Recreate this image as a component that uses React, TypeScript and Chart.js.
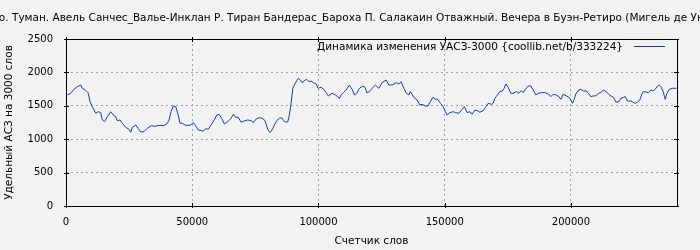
import { useEffect, useRef } from "react";
import { Chart, registerables } from "chart.js";

Chart.register(...registerables);

const TITLE =
  "Унамуно. Туман. Авель Санчес_Валье-Инклан Р. Тиран Бандерас_Бароха П. Салакаин Отважный. Вечера в Буэн-Ретиро (Мигель де Унамуно)";
const SERIES_LABEL = "Динамика изменения УАСЗ-3000 {coollib.net/b/333224}";
const X_TITLE = "Счетчик слов";
const Y_TITLE = "Удельный АСЗ на 3000 слов";

const X_MIN = 0;
const X_MAX = 242000;
const X_TICKS = [0, 50000, 100000, 150000, 200000];
const Y_MIN = 0;
const Y_MAX = 2500;
const Y_TICKS = [0, 500, 1000, 1500, 2000, 2500];

const wordCounts = [
  520, 1850, 3170, 4490, 5810, 6470, 7790, 8720, 9510, 10430, 11760, 12810, 13730, 14390, 15320, 16380,
  17700, 18760, 19680, 20340, 21390, 22320, 23640, 24960, 25620, 26280, 27600, 28530, 29580, 30900, 32220,
  33800, 35140, 36850, 38830, 40150, 40810, 41600, 42510, 43460, 44260, 45170, 46080, 47430, 49130, 50440,
  51390, 52420, 53760, 54400, 55350, 56380, 57450, 58760, 59710, 60620, 61690, 62720, 64070, 65370, 66280,
  67240, 68270, 69340, 70640, 71990, 73300, 74210, 75160, 76470, 77770, 78840, 79910, 80820, 81620, 82530,
  83480, 84510, 85460, 86090, 86890, 87840, 88470, 89150, 89820, 90450, 91400, 92040, 92830, 93500, 94410,
  95360, 96160, 97070, 97980, 99050, 99960, 101030, 102340, 103010, 103920, 105390, 106700, 107650, 108280,
  108960, 109870, 110940, 112240, 113310, 114220, 115170, 116210, 117550, 118460, 119140, 120170, 121240,
  122550, 123890, 125200, 126780, 127850, 129160, 130860, 131810, 132730, 133800, 134830, 135780, 136410,
  137760, 139070, 140140, 141050, 142360, 143310, 144340, 145290, 146320, 147270, 148300, 149370, 150280,
  150950, 152020, 153330, 154240, 155590, 156900, 157810, 158880, 159950, 160860, 161930, 162960, 163910,
  165220, 166130, 167200, 168500, 169180, 169850, 170880, 171830, 172860, 173540, 174210, 175120, 176190,
  177100, 178410, 179360, 180390, 181060, 181970, 183040, 184110, 185020, 186090, 187000, 188590, 189900,
  190970, 192040, 192950, 194260, 195210, 196000, 196910, 198220, 199170, 199960, 200600, 201270, 201940,
  202970, 203920, 204830, 206140, 206930, 207890, 208800, 209870, 210900, 211850, 212880, 213830, 214860,
  215810, 216840, 217790, 218820, 219770, 220800, 221480, 222390, 223730, 224650, 225440, 226350, 227300,
  228090, 228730, 229680, 230700, 231660, 232570, 233360, 234270, 234950, 235630, 236540, 237330, 238010,
  238920, 240230, 241810,
];

const uasz = [
  1662, 1687, 1747, 1786, 1811, 1762, 1732, 1696, 1562, 1487, 1388, 1412, 1398, 1288, 1263, 1337,
  1412, 1362, 1337, 1275, 1288, 1238, 1178, 1148, 1103, 1178, 1213, 1163, 1108, 1113, 1163,
  1203, 1193, 1208, 1203, 1238, 1288, 1412, 1497, 1487, 1388, 1238, 1238, 1208, 1208, 1248,
  1198, 1138, 1128, 1118, 1158, 1148, 1213, 1288, 1362, 1372, 1312, 1228, 1263, 1312, 1372,
  1327, 1327, 1253, 1273, 1288, 1278, 1248, 1298, 1322, 1312, 1278, 1148, 1098, 1138, 1213,
  1278, 1312, 1322, 1278, 1258, 1258, 1362, 1537, 1762, 1811, 1876, 1911, 1886, 1846, 1876,
  1896, 1861, 1871, 1846, 1826, 1762, 1777, 1737, 1697, 1647, 1687, 1662, 1637, 1607,
  1662, 1697, 1737, 1811, 1747, 1662, 1687, 1762, 1796, 1777, 1697, 1712, 1762,
  1811, 1762, 1846, 1886, 1811, 1811, 1846, 1826, 1861, 1762, 1687, 1662, 1712,
  1627, 1587, 1512, 1522, 1497, 1497, 1562, 1627, 1597, 1597, 1537, 1487, 1412,
  1362, 1398, 1412, 1398, 1388, 1447, 1487, 1398, 1412, 1372, 1437, 1427, 1403,
  1427, 1477, 1537, 1522, 1537, 1612, 1662, 1712, 1722, 1762, 1826, 1777, 1687,
  1687, 1712, 1687, 1727, 1697, 1747, 1796, 1796, 1737, 1662, 1687, 1697, 1697,
  1677, 1637, 1672, 1662, 1637, 1597, 1672, 1647, 1627, 1587, 1537, 1597, 1677,
  1737, 1747, 1722, 1722, 1687, 1637, 1647, 1647, 1687, 1697, 1737, 1712, 1677,
  1647, 1627, 1557, 1557, 1612, 1627, 1637, 1572, 1572, 1552, 1537, 1557, 1587,
  1677, 1712, 1707, 1697, 1737, 1722, 1747, 1796, 1811, 1786, 1712, 1597, 1687,
  1747, 1762, 1762,
];

const FONT = "DejaVu Sans";
const TEXT_SIZE = 10.5;
const TICK_SIZE = 10;
const LINE_COLOR = "#1041a8";

const decorPlugin = {
  id: "decor",
  beforeDraw(chart: any) {
    const ctx = chart.ctx;
    ctx.save();
    ctx.fillStyle = "#f2f2f2";
    ctx.fillRect(0, 0, chart.width, chart.height);
    ctx.restore();
  },
  afterDraw(chart: any) {
    const ctx = chart.ctx;
    const a = chart.chartArea;
    const xs = chart.scales.x;
    const ys = chart.scales.y;
    ctx.save();
    // frame
    ctx.strokeStyle = "#000";
    ctx.lineWidth = 1;
    ctx.setLineDash([]);
    ctx.strokeRect(Math.round(a.left) + 0.5, Math.round(a.top) + 0.5, Math.round(a.right - a.left), Math.round(a.bottom - a.top));
    // ticks
    ctx.beginPath();
    xs.ticks.forEach((t: any) => {
      const px = Math.round(xs.getPixelForValue(t.value)) + 0.5;
      ctx.moveTo(px, a.bottom + 2);
      ctx.lineTo(px, a.bottom - 3);
      ctx.moveTo(px, a.top - 2);
      ctx.lineTo(px, a.top + 3);
    });
    ys.ticks.forEach((t: any) => {
      const py = Math.round(ys.getPixelForValue(t.value)) + 0.5;
      ctx.moveTo(a.left - 2, py);
      ctx.lineTo(a.left + 3, py);
      ctx.moveTo(a.right + 2, py);
      ctx.lineTo(a.right - 3, py);
    });
    ctx.stroke();

    ctx.fillStyle = "#000";
    ctx.font = `${TEXT_SIZE}px "${FONT}"`;
    ctx.textBaseline = "middle";
    // title
    ctx.textAlign = "center";
    ctx.fillText(TITLE, chart.width / 2, 18);
    // x title
    ctx.fillText(X_TITLE, (a.left + a.right) / 2, 241);
    // y title
    ctx.save();
    ctx.translate(9, (a.top + a.bottom) / 2);
    ctx.rotate(-Math.PI / 2);
    ctx.fillText(Y_TITLE, 0, 0);
    ctx.restore();
    // legend
    ctx.textAlign = "right";
    ctx.fillText(SERIES_LABEL, 623, 47);
    ctx.strokeStyle = LINE_COLOR;
    ctx.beginPath();
    ctx.moveTo(634, 46.5);
    ctx.lineTo(665, 46.5);
    ctx.stroke();
    ctx.restore();
  },
};

export default function App() {
  const ref = useRef<HTMLCanvasElement | null>(null);
  useEffect(() => {
    document.body.style.margin = "0";
    document.body.style.background = "#f2f2f2";
    const canvas = ref.current!;
    const data = wordCounts.map((x, i) => ({ x, y: uasz[i] }));
    const chart = new Chart(canvas, {
      type: "line",
      data: {
        datasets: [
          {
            label: SERIES_LABEL,
            data,
            borderColor: LINE_COLOR,
            borderWidth: 1,
            pointRadius: 0,
            tension: 0,
            fill: false,
          },
        ],
      },
      options: {
        responsive: false,
        animation: false,
        devicePixelRatio: 1,
        layout: { padding: { left: 0, right: 23, top: 39, bottom: 0 } },
        plugins: { legend: { display: false }, title: { display: false }, tooltip: { enabled: false } },
        scales: {
          x: {
            type: "linear",
            min: X_MIN,
            max: X_MAX,
            afterFit: (s: any) => {
              s.height = 44;
            },
            afterBuildTicks: (s: any) => {
              s.ticks = X_TICKS.map((value) => ({ value }));
            },
            ticks: {
              maxRotation: 0,
              autoSkip: false,
              padding: 10,
              color: "#000",
              font: { family: FONT, size: TICK_SIZE },
              callback: (v: any) => String(v),
            },
            grid: { color: "#a0a0a0", drawTicks: false, lineWidth: 1 },
            border: { display: false, dash: [2, 3] },
          },
          y: {
            min: Y_MIN,
            max: Y_MAX,
            afterFit: (s: any) => {
              s.width = 66;
            },
            afterBuildTicks: (s: any) => {
              s.ticks = Y_TICKS.map((value) => ({ value }));
            },
            ticks: {
              padding: 13,
              color: "#000",
              font: { family: FONT, size: TICK_SIZE },
              callback: (v: any) => String(v),
            },
            grid: { color: "#a0a0a0", drawTicks: false, lineWidth: 1 },
            border: { display: false, dash: [2, 3] },
          },
        },
      },
      plugins: [decorPlugin],
    } as any);
    return () => chart.destroy();
  }, []);
  return <canvas ref={ref} width={700} height={250} style={{ display: "block" }} />;
}
